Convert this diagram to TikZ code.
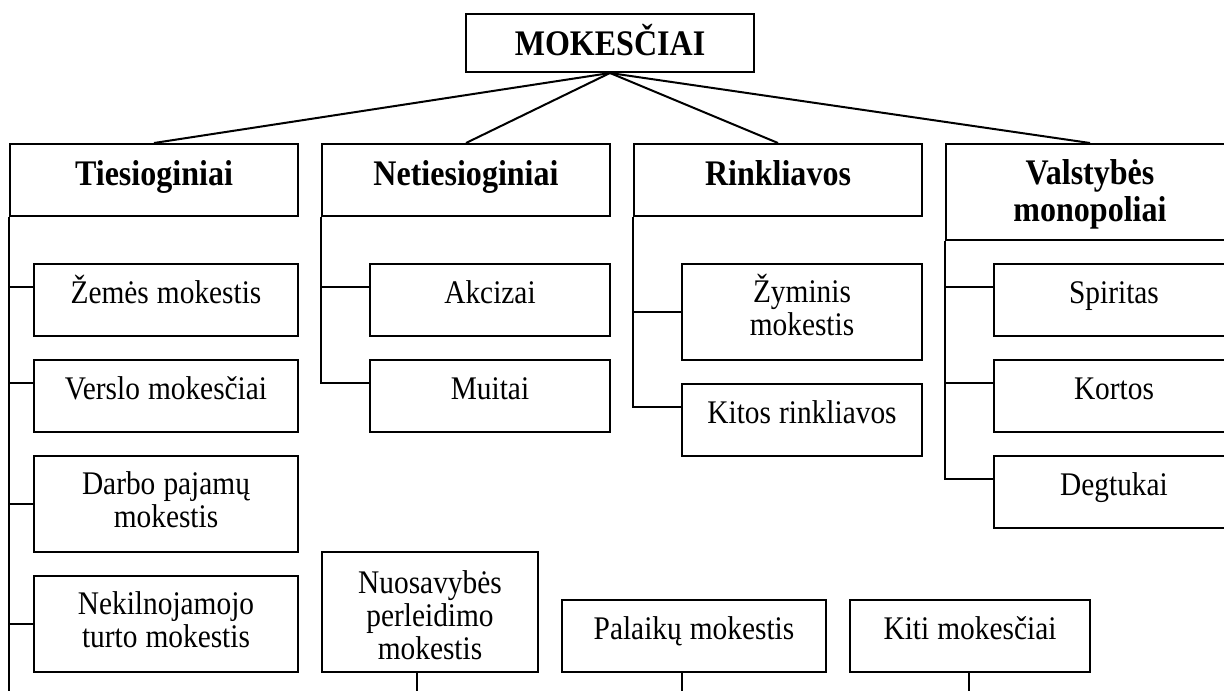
\documentclass[tikz,border=0pt]{standalone}
\usepackage{fontspec}
\setmainfont{Liberation Serif}[FakeStretch=0.89]
\begin{document}
\begin{tikzpicture}[x=1pt,y=-1pt,
  line width=2pt,
  box/.style={draw, line width=2pt, inner sep=0pt, anchor=north west,
    align=center, font=\fontsize{33}{33}\selectfont,
    execute at begin node={\spaceskip=0.245em\relax}},
  head/.style={box, font=\fontsize{36}{37}\bfseries\selectfont},
  hd72/.style={head, text width=#1, text height=41pt, text depth=31pt},
  hd96/.style={head, text width=#1, text height=40pt, text depth=56pt},
  r72/.style={box, text width=#1, text height=39pt, text depth=33pt},
  r96/.style={box, text width=#1, text height=38pt, text depth=58pt},
  r120/.style={box, text width=#1, text height=41pt, text depth=79pt}]

\useasboundingbox (0,0) rectangle (1224,691);
\fill[white] (0,0) rectangle (1224,691);
\clip (0,0) rectangle (1224,691);

% root
\node[head, text width=288pt, text height=41pt, text depth=17pt] (mok) at (465,13) {MOKESČIAI};

% main groups
\node[hd72=288pt] (tie) at (9,143)   {Tiesioginiai};
\node[hd72=288pt] (net) at (321,143) {Netiesioginiai};
\node[hd72=288pt] (rin) at (633,143) {Rinkliavos};
\node[hd96=288pt] (val) at (945,143) {Valstybės\\monopoliai};

% direct taxes
\node[r72=264pt] (zem) at (33,263) {Žemės mokestis};
\node[r72=264pt] (ver) at (33,359) {Verslo mokesčiai};
\node[r96=264pt] (dar) at (33,455) {Darbo pajamų\\mokestis};
\node[r96=264pt] (nek) at (33,575) {Nekilnojamojo\\turto mokestis};

% indirect taxes
\node[r72=240pt] (akc) at (369,263) {Akcizai};
\node[r72=240pt] (mui) at (369,359) {Muitai};

% fees
\node[r96=240pt] (zym) at (681,263) {Žyminis\\mokestis};
\node[r72=240pt] (kir) at (681,383) {Kitos rinkliavos};

% state monopolies
\node[r72=240pt] (spi) at (993,263) {Spiritas};
\node[r72=240pt] (kor) at (993,359) {Kortos};
\node[r72=240pt] (deg) at (993,455) {Degtukai};

% further taxes
\node[r120=216pt] (nuo) at (321,551) {Nuosavybės\\perleidimo\\mokestis};
\node[r72=264pt]  (pal) at (561,599) {Palaikų mokestis};
\node[r72=240pt]  (kit) at (849,599) {Kiti mokesčiai};

% root to groups
\draw (mok.south) -- (tie.north);
\draw (mok.south) -- (net.north);
\draw (mok.south) -- (rin.north);
\draw (mok.south) -- (val.north);

% branch points on the west sides
\coordinate (bZem) at ([yshift=-24pt]zem.north west);
\coordinate (bVer) at ([yshift=-24pt]ver.north west);
\coordinate (bAkc) at ([yshift=-24pt]akc.north west);
\coordinate (bMui) at ([yshift=-24pt]mui.north west);
\coordinate (bKir) at ([yshift=-24pt]kir.north west);
\coordinate (bSpi) at ([yshift=-24pt]spi.north west);
\coordinate (bKor) at ([yshift=-24pt]kor.north west);
\coordinate (bDeg) at ([yshift=-24pt]deg.north west);

% Tiesioginiai
\coordinate (tieEnd) at (9,700);
\draw (tie.south west) -- (tie.south west |- tieEnd);
\draw (tie.south west |- bZem) -- (bZem);
\draw (tie.south west |- bVer) -- (bVer);
\draw (tie.south west |- dar.west) -- (dar.west);
\draw (tie.south west |- nek.west) -- (nek.west);

% Netiesioginiai
\draw (net.south west) |- (bMui);
\draw (net.south west |- bAkc) -- (bAkc);

% Rinkliavos
\draw (rin.south west) |- (bKir);
\draw (rin.south west |- zym.west) -- (zym.west);

% Valstybės monopoliai
\draw (val.south west) |- (bDeg);
\draw (val.south west |- bSpi) -- (bSpi);
\draw (val.south west |- bKor) -- (bKor);

% stubs below the bottom row
\coordinate (nuoEnd) at (417,700);
\coordinate (palEnd) at (682,700);
\coordinate (kitEnd) at (969,700);
\draw (nuo.south -| nuoEnd) -- (nuoEnd);
\draw (pal.south -| palEnd) -- (palEnd);
\draw (kit.south -| kitEnd) -- (kitEnd);
\end{tikzpicture}
\end{document}
